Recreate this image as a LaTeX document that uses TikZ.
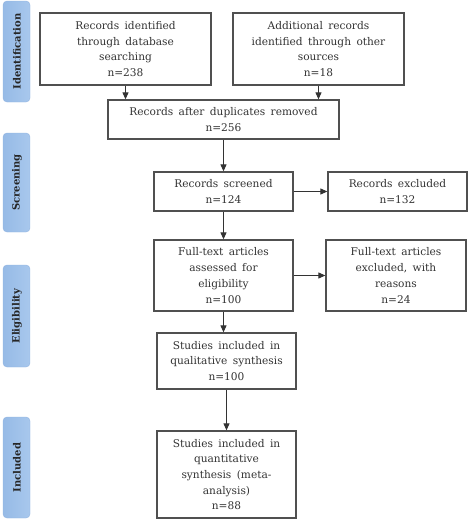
\documentclass[tikz,border=0pt]{standalone}
\usepackage{fontspec}
\setmainfont[WordSpace={1.6}]{DejaVu Serif}
\usetikzlibrary{arrows.meta}
\definecolor{sidefill}{RGB}{168,200,237}
\definecolor{sideleft}{RGB}{150,186,230}
\definecolor{sideedge}{RGB}{145,180,225}
\definecolor{boxline}{RGB}{80,80,80}
\begin{document}
\begin{tikzpicture}[x=1pt,y=-1pt,
  flowbox/.style={draw=boxline,line width=1.3pt,fill=white,align=center,inner sep=0pt,
    font=\fontsize{10.6}{15.7}\selectfont,text=black!80},
  sidebox/.style={rounded corners=4pt,left color=sideleft,right color=sidefill,draw=sideedge,line width=0.4pt},
  sidetext/.style={rotate=90,font=\fontsize{10}{12}\selectfont\bfseries,text=black!85},
  arr/.style={draw=black!80,line width=1pt,-{Triangle[length=7pt,width=6pt]}}]
\useasboundingbox (0,0) rectangle (471,520);
% side labels
\foreach \nm/\ya/\yb/\txt in {sid/1/102/Identification, sscr/133/232/Screening, seli/265/367/Eligibility, sinc/417/518/Included}{
  \path[sidebox] (3,\ya) rectangle (30,\yb);
  \node[sidetext] (\nm) at (17,{(\ya+\yb)/2}) {\txt};
}
% boxes
\node[flowbox,minimum width=171pt,minimum height=72pt] (b1) at (125.5,49)
  {Records identified\\through database\\searching\\n=238};
\node[flowbox,minimum width=171pt,minimum height=72pt] (b2) at (318.5,49)
  {Additional records\\identified through other\\sources\\n=18};
\node[flowbox,minimum width=231pt,minimum height=39pt] (b3) at (223.5,119.5)
  {Records after duplicates removed\\n=256};
\node[flowbox,minimum width=139pt,minimum height=39pt] (b4) at (223.5,191.5)
  {Records screened\\n=124};
\node[flowbox,minimum width=139pt,minimum height=39pt] (b5) at (397.5,191.5)
  {Records excluded\\n=132};
\node[flowbox,minimum width=139pt,minimum height=71pt] (b6) at (223.5,275.5)
  {Full-text articles\\assessed for\\eligibility\\n=100};
\node[flowbox,minimum width=140pt,minimum height=71pt] (b7) at (396,275.5)
  {Full-text articles\\excluded, with\\reasons\\n=24};
\node[flowbox,minimum width=139pt,minimum height=56pt] (b8) at (226.5,361)
  {Studies included in\\qualitative synthesis\\n=100};
\node[flowbox,minimum width=139pt,minimum height=87pt] (b9) at (226.5,474.5)
  {Studies included in\\quantitative\\synthesis (meta-\\analysis)\\n=88};
% arrows
\draw[arr] (b1.south) -- (b1.south |- b3.north);
\draw[arr] (b2.south) -- (b2.south |- b3.north);
\draw[arr] (b3.south) -- (b4.north);
\draw[arr] (b4.east) -- (b5.west);
\draw[arr] (b4.south) -- (b6.north);
\draw[arr] (b6.east) -- (b7.west);
\draw[arr] (b6.south) -- (b6.south |- b8.north);
\draw[arr] (b8.south) -- (b9.north);
\end{tikzpicture}
\end{document}
